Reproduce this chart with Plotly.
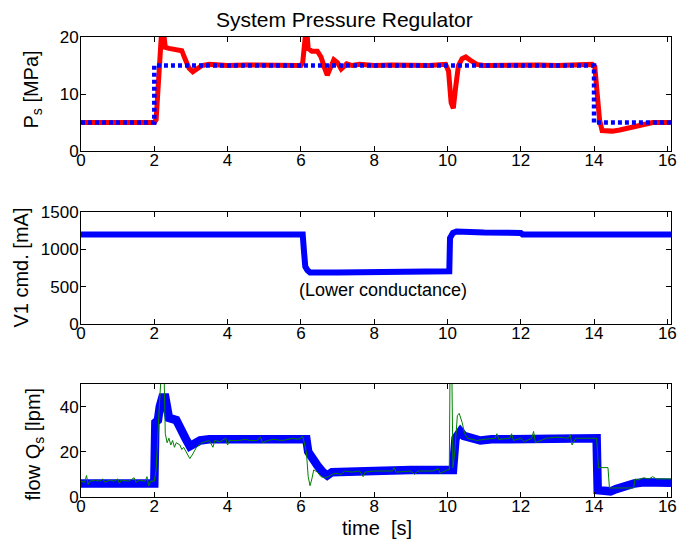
import plotly.graph_objects as go

# ---------------- data ----------------
# Top: system pressure
ps_t = [0, 0.5, 1.0, 1.5, 2.0, 2.05, 2.1, 2.15, 2.2, 2.25, 2.3, 2.4, 2.6, 2.75, 2.85, 2.95, 3.05, 3.15, 3.3, 3.5,
        4.0, 4.5, 5.0, 5.5, 6.0, 6.05, 6.1, 6.15, 6.2, 6.3, 6.45, 6.55, 6.65, 6.72, 6.8, 6.9, 7.0, 7.1, 7.25, 7.4,
        7.6, 8.0, 8.5, 9.0, 9.5, 9.95, 10.03, 10.1, 10.16, 10.22, 10.3, 10.4, 10.5, 10.65, 10.8, 11.0, 11.5, 12.0,
        12.5, 13.0, 13.5, 13.95, 14.02, 14.08, 14.15, 14.22, 14.5, 14.7, 15.0, 15.3, 15.6, 16.1]
ps_val = [5, 4.9, 5, 5, 5, 5.5, 10, 16, 21, 21, 18.2, 18, 17.8, 17.6, 16, 14.5, 13.9, 14.4, 15, 15.2,
          15, 15.1, 15, 15.1, 15, 15.5, 22, 22, 18, 17.5, 17.5, 16.5, 14.5, 13.3, 14.5, 16, 15.5, 14.4, 15.3, 15,
          15.2, 15, 15.1, 15, 15, 15.2, 14, 8.5, 7.5, 11, 15, 16.2, 16.5, 15.8, 15.2, 15, 15.1, 15,
          15.1, 15, 15.1, 15.2, 14.8, 11, 5.5, 3.6, 3.5, 3.7, 4.2, 4.7, 5, 5]
ref_t = [0, 2, 2, 14, 14, 16.1]
ref_val = [5, 5, 15, 15, 5, 5]

# Middle: V1 command
v1_t = [0, 6.05, 6.08, 6.12, 6.18, 6.25, 7.0, 7.95, 8.0, 9.0, 10.05, 10.07, 10.1, 10.15, 10.25, 10.4, 10.5,
        10.6, 10.7, 11.0, 12.0, 12.05, 16.1]
v1_val = [1200, 1200, 1000, 770, 720, 690, 690, 690, 705, 705, 705, 1150, 1200, 1220, 1240, 1235, 1245,
          1235, 1225, 1225, 1220, 1200, 1200]

# Bottom: flow (thick blue) and measured flow (thin green)
qb_t = [0, 2.0, 2.03, 2.1, 2.15, 2.22, 2.3, 2.35, 2.4, 2.6, 2.7, 2.85, 2.97, 3.1, 3.25, 3.5, 6.15, 6.2, 6.3,
        6.45, 6.6, 6.72, 6.85, 7.0, 7.5, 8.0, 9.0, 10.15, 10.22, 10.27, 10.35, 10.45, 10.65, 10.9, 11.2, 12.0,
        13.0, 14.07, 14.1, 14.3, 14.45, 14.6, 14.85, 15.1, 15.35, 15.6, 16.1]
qb_val = [6, 6, 33, 34, 40, 44, 44, 38, 35, 34, 30, 26, 22.5, 23.5, 25, 25.5, 25.5, 20, 17,
          14, 11, 9.5, 11, 11, 11.5, 11.5, 12, 12, 26, 28, 29, 27, 26, 25, 25.5, 25.5,
          26, 26, 3, 2.5, 2.5, 3.5, 5, 6, 6.5, 6.5, 6.3]

qg_t = [0.0, 0.1, 0.15, 0.2, 0.25, 0.4, 0.5, 0.6, 0.65, 0.8, 0.9, 1.0, 1.05, 1.1, 1.3, 1.45, 1.5, 1.6, 1.75,
        1.8, 1.85, 1.9, 2.0, 2.05, 2.12, 2.18, 2.27, 2.3, 2.35, 2.4, 2.45, 2.5, 2.55, 2.6, 2.7, 2.75, 2.8, 2.9,
        2.97, 3.05, 3.15, 3.3, 3.5, 3.6, 3.65, 3.8, 3.95, 4.0, 4.05, 4.3, 4.5, 4.6, 4.8, 4.9, 4.95, 5.1, 5.25,
        5.5, 5.7, 5.8, 5.9, 6.0, 6.05, 6.1, 6.15, 6.2, 6.25, 6.3, 6.35, 6.45, 6.55, 6.65, 6.75, 6.85, 6.95,
        7.1, 7.2, 7.4, 7.6, 7.7, 7.75, 8.0, 8.5, 8.55, 8.6, 9.0, 9.1, 9.2, 9.6, 9.75, 9.8, 10.0, 10.05, 10.07,
        10.12, 10.15, 10.2, 10.27, 10.32, 10.4, 10.47, 10.55, 10.65, 10.8, 11.0, 11.3, 11.35, 11.4, 11.7,
        11.75, 11.8, 12.0, 12.1, 12.3, 12.35, 12.4, 12.7, 13.0, 13.3, 13.35, 13.4, 13.5, 13.8, 14.0, 14.07,
        14.12, 14.38, 14.42, 15.08, 15.12, 15.2, 15.35, 15.5, 15.6, 15.7, 16.1]
qg_val = [7, 6.5, 9.5, 5.5, 7, 7.5, 7, 8, 6.5, 7.5, 7, 8, 6, 7.5, 7, 8.5, 6.5, 7.5, 7,
          9, 5, 7, 7, 12, 35, 52, 52, 28, 24, 26, 23, 25, 22, 24, 23, 21, 22, 19,
          17, 19, 22, 24, 25, 22, 25, 24.5, 26, 23, 25, 25, 25.5, 25, 25, 26.5, 24, 25, 25.5,
          25, 25.5, 26, 25.5, 26, 27, 24, 20, 9, 5, 8, 12, 11, 9, 8.5, 9, 10, 10.5,
          10, 11.5, 11, 11.5, 9, 11, 11.5, 11.5, 13, 11, 11.5, 10, 11.5, 11.5, 12.5, 10.5, 12, 12, 55,
          55, 13, 20, 36, 37, 33, 28, 26, 25.5, 25, 25.5, 26, 28, 25.5, 26,
          28, 25, 26, 24.5, 26, 29, 24, 26, 26.5, 26, 27.5, 23, 26, 26, 26, 26,
          13, 13, 4, 4, 8, 7.5, 8.5, 8, 9, 8, 8]

x_ticks = [0, 2, 4, 6, 8, 10, 12, 14, 16]

# ---------------- figure ----------------
FONT = "Liberation Sans, Arial, Helvetica, sans-serif"
fig = go.Figure()

fig.add_trace(go.Scatter(x=ps_t, y=ps_val, mode="lines", line=dict(color="#FF0000", width=5),
                         xaxis="x", yaxis="y", showlegend=False))
fig.add_trace(go.Scatter(x=ref_t, y=ref_val, mode="lines",
                         line=dict(color="#0000FF", width=4.5, dash="4px,3px"),
                         xaxis="x", yaxis="y", showlegend=False))
fig.add_trace(go.Scatter(x=v1_t, y=v1_val, mode="lines", line=dict(color="#0000FF", width=6),
                         xaxis="x2", yaxis="y2", showlegend=False))
fig.add_trace(go.Scatter(x=qb_t, y=qb_val, mode="lines", line=dict(color="#0000FF", width=8.5),
                         xaxis="x3", yaxis="y3", showlegend=False))
fig.add_trace(go.Scatter(x=qg_t, y=qg_val, mode="lines", line=dict(color="#008000", width=1),
                         xaxis="x3", yaxis="y3", showlegend=False))

common = dict(showline=True, linecolor="black", linewidth=1, mirror="ticks", ticks="inside",
              ticklen=5, tickcolor="black", showgrid=False, zeroline=False,
              tickfont=dict(size=17, color="black", family=FONT))

xax = dict(common, range=[0, 16.1], tickvals=x_ticks, ticklabeloverflow="allow", ticklabelstandoff=-6)
yax = dict(common, ticklabelstandoff=-2)
fig.update_layout(
    width=678, height=548,
    margin=dict(l=81, r=1, t=37, b=51),
    plot_bgcolor="white", paper_bgcolor="white",
    font=dict(family=FONT, color="black"),
    xaxis=dict(xax, domain=[0, 1], anchor="y"),
    yaxis=dict(yax, domain=[0.752, 1.0], range=[0, 20], tickvals=[0, 10, 20], anchor="x"),
    xaxis2=dict(xax, domain=[0, 1], anchor="y2"),
    yaxis2=dict(yax, domain=[0.376, 0.6196], range=[0, 1500], tickvals=[0, 500, 1000, 1500], anchor="x2"),
    xaxis3=dict(xax, domain=[0, 1], anchor="y3"),
    yaxis3=dict(yax, domain=[0, 0.2457], range=[0, 50], tickvals=[0, 20, 40], anchor="x3"),
)

ann = [
    dict(text="System Pressure Regulator", x=0.446, y=1.037, font=dict(size=21)),
    dict(text="P<sub>s</sub> [MPa]", x=-0.082, y=0.885, textangle=-90, font=dict(size=20)),
    dict(text="V1 cmd. [mA]", x=-0.1023, y=0.498, textangle=-90, font=dict(size=20)),
    dict(text="flow Q<sub>s</sub> [lpm]", x=-0.079, y=0.115, textangle=-90, font=dict(size=20)),
    dict(text="time  [s]", x=0.502, y=-0.0674, font=dict(size=20)),
]
for a in ann:
    fig.add_annotation(xref="paper", yref="paper", showarrow=False, xanchor="center", yanchor="middle", **a)

fig.add_annotation(text="(Lower conductance)", x=8.25, y=450, xref="x2", yref="y2", showarrow=False,
                   font=dict(size=18, color="black"), xanchor="center", yanchor="middle")

fig.write_html("out.html")
